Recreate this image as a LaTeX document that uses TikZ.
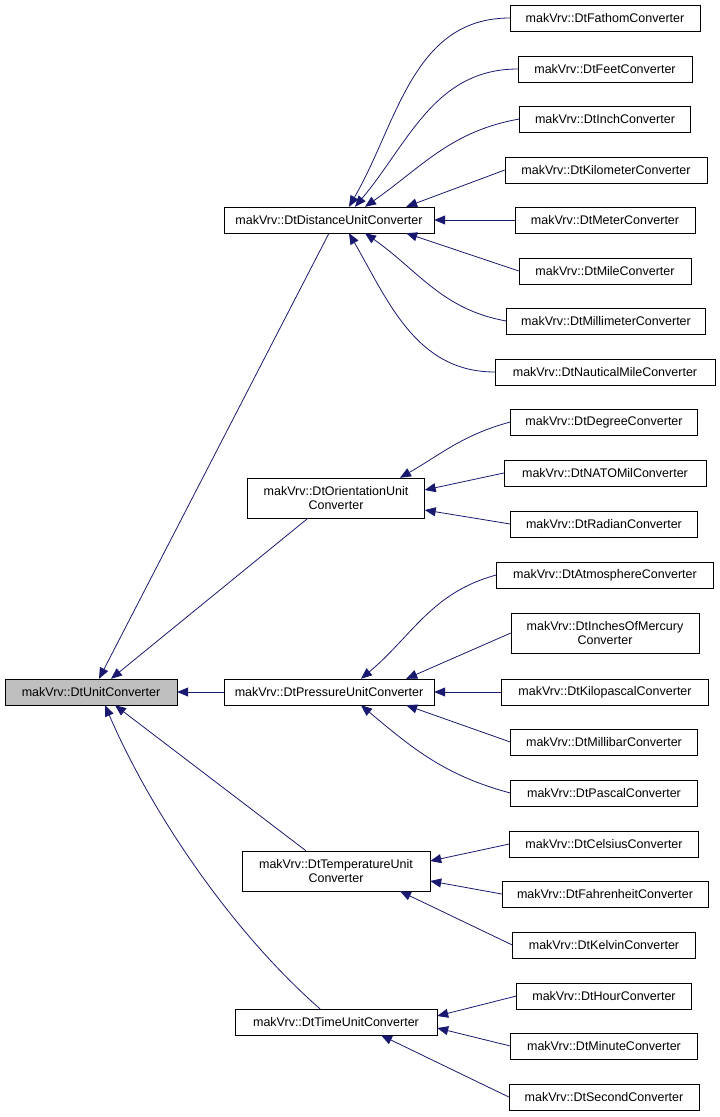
\documentclass[tikz,border=0pt]{standalone}
\usepackage{fontspec}
\setmainfont{Liberation Sans}
\usetikzlibrary{arrows.meta,calc}
\definecolor{edgeblue}{HTML}{191970}
\begin{document}
\begin{tikzpicture}[x=1pt,y=-1pt,
  box/.style={draw=black,fill=white,minimum height=26pt,inner sep=1pt,align=center,font=\fontsize{12.5}{14}\selectfont},
  box2/.style={box,minimum height=40pt},
  edge/.style={draw=edgeblue,line width=0.8pt,-{Triangle[length=11pt,width=9pt]},edgeblue}]
\useasboundingbox (0,0) rectangle (720,1117);
% root
\node[box,fill=black!25,minimum width=172pt] (R) at (91,692) {makVrv::DtUnitConverter};
% middle
\node[box,minimum width=210pt] (D) at (329,220) {makVrv::DtDistanceUnitConverter};
\node[box2,minimum width=177pt] (O) at (336,498) {makVrv::DtOrientationUnit\\Converter};
\node[box,minimum width=210pt] (P) at (329,692) {makVrv::DtPressureUnitConverter};
\node[box2,minimum width=188pt] (T) at (336,871) {makVrv::DtTemperatureUnit\\Converter};
\node[box,minimum width=202pt] (Ti) at (336,1022) {makVrv::DtTimeUnitConverter};
% leaves
\node[box,minimum width=190pt] (l1) at (605,18) {makVrv::DtFathomConverter};
\node[box,minimum width=174pt] (l2) at (605,69) {makVrv::DtFeetConverter};
\node[box,minimum width=171pt] (l3) at (605,119) {makVrv::DtInchConverter};
\node[box,minimum width=202pt] (l4) at (606,170) {makVrv::DtKilometerConverter};
\node[box,minimum width=180pt] (l5) at (605,220) {makVrv::DtMeterConverter};
\node[box,minimum width=172pt] (l6) at (605,271) {makVrv::DtMileConverter};
\node[box,minimum width=199pt] (l7) at (606,321) {makVrv::DtMillimeterConverter};
\node[box,minimum width=220pt] (l8) at (605,372) {makVrv::DtNauticalMileConverter};
\node[box,minimum width=187pt] (l9) at (604,422) {makVrv::DtDegreeConverter};
\node[box,minimum width=202pt] (l10) at (605,473) {makVrv::DtNATOMilConverter};
\node[box,minimum width=187pt] (l11) at (604,524) {makVrv::DtRadianConverter};
\node[box,minimum width=217pt] (l12) at (605,575) {makVrv::DtAtmosphereConverter};
\node[box2,minimum width=188pt] (l13) at (605,633) {makVrv::DtInchesOfMercury\\Converter};
\node[box,minimum width=207pt] (l14) at (605,692) {makVrv::DtKilopascalConverter};
\node[box,minimum width=187pt] (l15) at (604,742) {makVrv::DtMillibarConverter};
\node[box,minimum width=187pt] (l16) at (604,793) {makVrv::DtPascalConverter};
\node[box,minimum width=189pt] (l17) at (604,844) {makVrv::DtCelsiusConverter};
\node[box,minimum width=206pt] (l18) at (605,894) {makVrv::DtFahrenheitConverter};
\node[box,minimum width=183pt] (l19) at (604,945) {makVrv::DtKelvinConverter};
\node[box,minimum width=175pt] (l20) at (604,996) {makVrv::DtHourConverter};
\node[box,minimum width=187pt] (l21) at (604,1046) {makVrv::DtMinuteConverter};
\node[box,minimum width=190pt] (l22) at (604,1097) {makVrv::DtSecondConverter};
% distance edges
\draw[edge] (l1.west) to[out=180,in=60] ($(D.north)+(20,0)$);
\draw[edge] (l2.west) to[out=180,in=50] ($(D.north)+(26,0)$);
\draw[edge] (l3.west) to[out=190,in=35] ($(D.north)+(36,0)$);
\draw[edge] (l4.west) -- ($(D.north east)+(-28,0)$);
\draw[edge] (l5.west) -- (D.east);
\draw[edge] (l6.west) -- ($(D.south east)+(-28,0)$);
\draw[edge] (l7.west) to[out=170,in=-35] ($(D.south)+(36,0)$);
\draw[edge] (l8.west) to[out=180,in=-60] ($(D.south)+(20,0)$);
% orientation
\draw[edge] (l9.west) to[out=195,in=30] ($(O.north)+(64,0)$);
\draw[edge] (l10.west) -- ($(O.east)+(0,-8)$);
\draw[edge] (l11.west) -- ($(O.east)+(0,12)$);
% pressure
\draw[edge] (l12.west) to[out=195,in=40] ($(P.north)+(32,0)$);
\draw[edge] (l13.west) -- ($(P.north east)+(-28,0)$);
\draw[edge] (l14.west) -- (P.east);
\draw[edge] (l15.west) -- ($(P.south east)+(-28,0)$);
\draw[edge] (l16.west) to[out=165,in=-40] ($(P.south)+(32,0)$);
% temperature
\draw[edge] (l17.west) -- ($(T.east)+(0,-10)$);
\draw[edge] (l18.west) -- ($(T.east)+(0,10)$);
\draw[edge] (l19.west) -- ($(T.south)+(64,0)$);
% time
\draw[edge] (l20.west) -- ($(Ti.east)+(0,-6)$);
\draw[edge] (l21.west) -- ($(Ti.east)+(0,6)$);
\draw[edge] (l22.west) -- ($(Ti.south)+(45,0)$);
% root
\draw[edge] (D.south) -- ($(R.north)+(8,0)$);
\draw[edge] ($(O.south)+(-28,0)$) -- ($(R.north)+(20,0)$);
\draw[edge] (P.west) -- (R.east);
\draw[edge] ($(T.north)+(-30,0)$) -- ($(R.south)+(24,0)$);
\draw[edge] ($(Ti.north)+(-16,0)$) .. controls (230,930) and (150,810) .. ($(R.south)+(14,0)$);
\end{tikzpicture}
\end{document}
